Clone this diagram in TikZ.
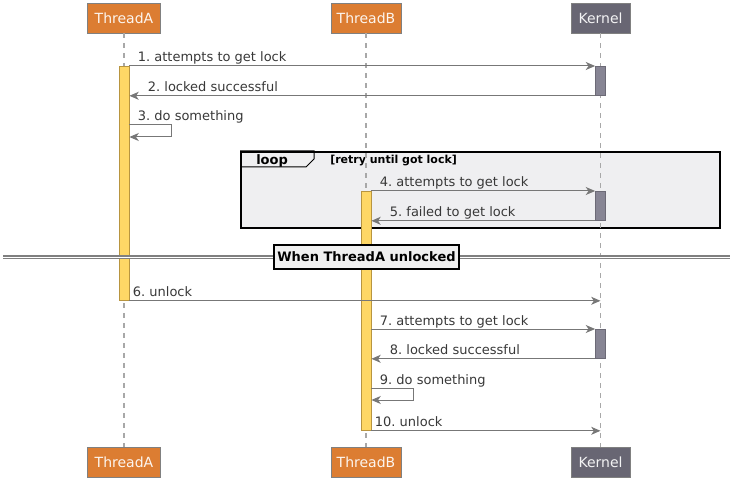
\documentclass[tikz,border=0pt]{standalone}
\usepackage{fontspec}
\setmainfont{DejaVu Sans}
\usepackage{tikz}
\usetikzlibrary{arrows.meta}
\frenchspacing

\definecolor{thorange}{HTML}{DC7D32}
\definecolor{kerngray}{HTML}{686673}
\definecolor{barfill}{HTML}{FED766}
\definecolor{bardraw}{HTML}{B89540}
\definecolor{kbarfill}{HTML}{878594}
\definecolor{msggray}{HTML}{777777}
\definecolor{txtgray}{HTML}{383838}
\definecolor{framefill}{HTML}{EFEFF1}
\definecolor{lifegray}{HTML}{A8A8A8}

\begin{document}
\begin{tikzpicture}[x=0.75pt,y=-0.75pt,>={Stealth[length=7pt,width=6pt,inset=2pt]},font=\fontsize{9.75}{11}\selectfont]
		\tikzstyle{thread}=[rectangle, draw=gray, fill=thorange, text=white!92!thorange, minimum height=22.5pt, inner sep=0pt, font=\fontsize{10.5}{12}\selectfont]
		\tikzstyle{kernel}=[thread, fill=kerngray, text=white!92!kerngray]
		\tikzstyle{life}=[draw=lifegray, dash pattern=on 3.75pt off 3.75pt, line width=0.9pt]
		\tikzstyle{actbar}=[rectangle, draw=bardraw, fill=barfill, minimum width=7.5pt, inner sep=0pt, anchor=north, line width=0.6pt]
		\tikzstyle{kbar}=[actbar, draw=kbarfill!80!black, fill=kbarfill]
		\tikzstyle{msg}=[draw=msggray, line width=0.75pt]
		\tikzstyle{msgr}=[pos=0, anchor=base west, xshift=6pt, yshift=3pt, inner sep=0pt, text=txtgray]
		\tikzstyle{msgl}=[pos=1, anchor=base west, xshift=13.5pt, yshift=3pt, inner sep=0pt, text=txtgray]
		\tikzstyle{boldlbl}=[anchor=base west, inner sep=0pt, font=\bfseries\fontsize{9.75}{11}\selectfont]

		\useasboundingbox (0,0) rectangle (742,488);

		% participants
		\node [thread, minimum width=54.75pt] (thA) at (124,18) {ThreadA};
		\node [thread, minimum width=52.5pt] (thB) at (366,18) {ThreadB};
		\node [kernel, minimum width=44.25pt] (kern) at (600.5,18) {Kernel};
		\node [thread, minimum width=54.75pt] (thA-b) at (124,462) {ThreadA};
		\node [thread, minimum width=52.5pt] (thB-b) at (366,462) {ThreadB};
		\node [kernel, minimum width=44.25pt] (kern-b) at (600.5,462) {Kernel};

		% loop frame
		\node [rectangle, draw=black, fill=framefill, line width=1.5pt, minimum width=359.25pt, minimum height=57pt, inner sep=0pt] (loop) at (480.5,190) {};
		\draw [draw=black, line width=0.75pt] (loop.north west) -- ++(74,0) -- ++(0,8) -- ++(-8,8) -- ++(-66,0);
		\node [boldlbl] (looplbl) at (256,165) {loop};
		\node [boldlbl, font=\bfseries\fontsize{8.25}{10}\selectfont] (loopcond) at (330,164) {[retry until got lock]};

		% lifelines
		\foreach \p in {thA,thB,kern}
			\draw [life] (\p.south) -- (\p-b.north);

		% activations
		\node [actbar, minimum height=175.5pt] (actA) at (124,66) {};
		\node [actbar, minimum height=179.25pt] (actB) at (366,191) {};
		\node [kbar, minimum height=21.75pt] (kact1) at (600.5,66) {};
		\node [kbar, minimum height=21.75pt] (kact2) at (600.5,191) {};
		\node [kbar, minimum height=21.75pt] (kact3) at (600.5,329) {};

		\coordinate (s3a) at (171,125);
		\coordinate (s3b) at (171,137);
		\coordinate (s9a) at (413,388);
		\coordinate (s9b) at (413,400);

		% messages
		\draw [msg,->] (actA.north east) -- node[msgr] {1. attempts to get lock} (kact1.north west);
		\draw [msg,->] (kact1.south west) -- node[msgl] {2. locked successful} (actA.east |- kact1.south);
		\draw [msg,->] (actA.east |- s3a) -- node[msgr] {3. do something} (s3a) -- (s3b) -- (actA.east |- s3b);
		\draw [msg,->] (actB.north east) -- node[msgr] {4. attempts to get lock} (kact2.north west);
		\draw [msg,->] (kact2.south west) -- node[msgl] {5. failed to get lock} (actB.east |- kact2.south);
		\draw [msg,->] (actA.south east) -- node[msgr, xshift=-3.75pt] {6. unlock} (kern |- actA.south);
		\draw [msg,->] (actB.east |- kact3.north) -- node[msgr] {7. attempts to get lock} (kact3.north west);
		\draw [msg,->] (kact3.south west) -- node[msgl] {8. locked successful} (actB.east |- kact3.south);
		\draw [msg,->] (actB.east |- s9a) -- node[msgr] {9. do something} (s9a) -- (s9b) -- (actB.east |- s9b);
		\draw [msg,->] (actB.south east) -- node[msgr, xshift=-3.75pt] {10. unlock} (kern |- actB.south);

		% divider
		\coordinate (divL) at (3,257.5);
		\coordinate (divR) at (730,257.5);
		\draw [draw=gray, double=white, double distance=1.2pt, line width=0.9pt] (divL) -- (divR);
		\node [rectangle, draw=black, fill=gray!12, line width=1.1pt, minimum width=138.75pt, minimum height=18pt, inner sep=0pt, font=\bfseries\fontsize{9.75}{11}\selectfont] (unlocked) at (366.5,257) {When ThreadA unlocked};
	\end{tikzpicture}
\end{document}
